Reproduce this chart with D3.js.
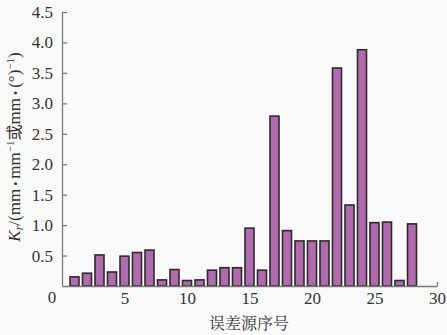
<!DOCTYPE html>
<html><head><meta charset="utf-8">
<script src="https://cdn.jsdelivr.net/npm/d3@7"></script>
<style>
body{margin:0;background:#f9f9f9;}
svg{display:block;}
</style></head>
<body>
<script>
const categories = d3.range(1, 29);
const values = [0.15,0.21,0.51,0.23,0.49,0.55,0.59,0.10,0.27,0.09,0.10,0.26,0.30,0.30,0.95,0.26,2.79,0.91,0.74,0.74,0.74,3.58,1.33,3.88,1.04,1.05,0.09,1.02];
const yTicks = [0.5,1.0,1.5,2.0,2.5,3.0,3.5,4.0,4.5];
const xTicks = [5,10,15,20,25,30];

const W = 447, H = 335;
const svg = d3.select("body").append("svg").attr("width", W).attr("height", H);
svg.append("rect").attr("width", W).attr("height", H).attr("fill", "#f9f9f9");

const x = d3.scaleLinear().domain([0, 30]).range([62, 437]);
const y = d3.scaleLinear().domain([0, 4.5]).range([286, 12]);
const bw = x(0.72) - x(0);

const font = "'Liberation Serif','Times New Roman',serif";
const axisColor = "#7a7a7a";

// bars
svg.append("g").selectAll("rect").data(values).join("rect")
  .attr("x", (d, i) => x(categories[i]) - bw / 2)
  .attr("y", d => y(d))
  .attr("width", bw)
  .attr("height", d => y(0) - y(d))
  .attr("fill", "#b26aae")
  .attr("stroke", "#2b2b2b")
  .attr("stroke-width", 1.6);

// y axis
const ya = svg.append("g").attr("transform", `translate(${x(0)},0)`)
  .call(d3.axisLeft(y).tickValues(yTicks).tickFormat(d3.format(".1f")).tickSizeInner(-5).tickSizeOuter(0).tickPadding(9));
ya.select(".domain").attr("stroke", axisColor).attr("stroke-width", 1.3);
ya.selectAll(".tick line").attr("stroke", axisColor).attr("stroke-width", 1.3);
ya.selectAll(".tick text").attr("font-family", font).attr("font-size", 17).attr("fill", "#333");

// x axis
const xa = svg.append("g").attr("transform", `translate(0,${y(0)})`)
  .call(d3.axisBottom(x).tickValues(xTicks).tickSizeInner(-4).tickSizeOuter(0).tickPadding(6));
xa.select(".domain").attr("stroke", axisColor).attr("stroke-width", 1.3);
xa.selectAll(".tick line").attr("stroke", axisColor).attr("stroke-width", 1.3);
xa.selectAll(".tick text").attr("font-family", font).attr("font-size", 17).attr("fill", "#333");

// origin label
svg.append("text").attr("x", x(0) - 10).attr("y", y(0) + 17).attr("text-anchor", "middle")
  .attr("font-family", font).attr("font-size", 17).attr("fill", "#333").text("0");

// x title
svg.append("text").attr("x", 249).attr("y", 329).attr("text-anchor", "middle")
  .attr("font-family", "'Noto Serif CJK SC','Noto Sans CJK SC',sans-serif").attr("font-size", 16).attr("fill", "#333")
  .text("误差源序号");

// y title
const yt = svg.append("text").attr("transform", "translate(20,147) rotate(-90)")
  .attr("text-anchor", "middle").attr("font-family", font).attr("font-size", 17).attr("fill", "#333");
yt.append("tspan").attr("font-style", "italic").text("K");
yt.append("tspan").attr("font-style", "italic").attr("font-size", 12).attr("dy", 3).text("r");
yt.append("tspan").attr("dy", -3).text("/(mm");
yt.append("tspan").attr("font-size", 12).text(" • ");
yt.append("tspan").text("mm");
yt.append("tspan").attr("font-size", 11).attr("dy", -6).text("−1");
yt.append("tspan").attr("dy", 6).attr("font-family", "'Noto Sans CJK SC',sans-serif").attr("font-size", 16).text("或");
yt.append("tspan").text("mm");
yt.append("tspan").attr("font-size", 12).text(" • ");
yt.append("tspan").text("(°)");
yt.append("tspan").attr("font-size", 11).attr("dy", -6).text("−1");
yt.append("tspan").attr("dy", 6).text(")");
</script>
</body></html>
